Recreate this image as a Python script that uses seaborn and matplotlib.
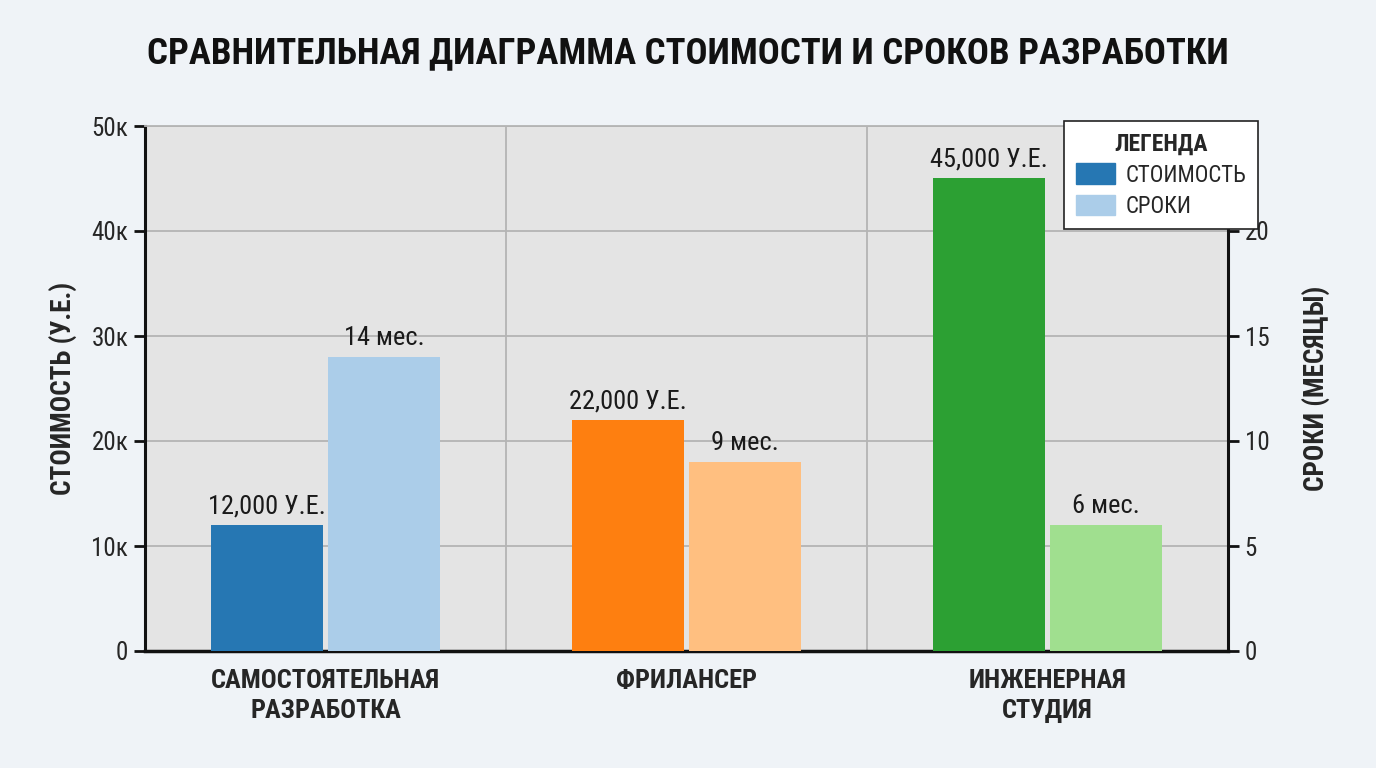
import numpy as np
import pandas as pd
import matplotlib
matplotlib.use('Agg')
import matplotlib.pyplot as plt
import seaborn as sns
from matplotlib import font_manager
from matplotlib.patches import Patch
from matplotlib.ticker import FuncFormatter

# data
categories = ['САМОСТОЯТЕЛЬНАЯ\nРАЗРАБОТКА', 'ФРИЛАНСЕР', 'ИНЖЕНЕРНАЯ\nСТУДИЯ']
cost = [12000, 22000, 45000]
months = [14, 9, 6]
cost_colors = ['#2677b3', '#fe7f10', '#2ca033']
month_colors = ['#abcde9', '#ffbf80', '#a0df8f']
series = ['СТОИМОСТЬ', 'СРОКИ']

sns.set_theme(style='white')

names = {f.name for f in font_manager.fontManager.ttflist}
family = 'Roboto'
for cand in ['Liberation Sans Narrow', 'Roboto Condensed', 'Roboto', 'Liberation Sans']:
    if cand in names:
        family = cand
        break
plt.rcParams['font.family'] = [family, 'DejaVu Sans']

df = pd.DataFrame({
    'cat': categories * 2,
    'metric': [series[0]] * 3 + [series[1]] * 3,
    'value': cost + months,
})

bg = '#eff3f7'
fig = plt.figure(figsize=(13.76, 7.68), dpi=100, facecolor=bg)
ax1 = fig.add_axes([145 / 1376, 1 - 651 / 768, 1083 / 1376, 525 / 768])
ax1.set_facecolor('#e4e4e4')

sns.barplot(data=df[df.metric == series[0]], x='cat', y='value', hue='metric',
            hue_order=series, order=categories, dodge=True, width=0.65, gap=0.04,
            legend=False, ax=ax1, zorder=3)
ax2 = ax1.twinx()
sns.barplot(data=df[df.metric == series[1]], x='cat', y='value', hue='metric',
            hue_order=series, order=categories, dodge=True, width=0.65, gap=0.04,
            legend=False, ax=ax2, zorder=3)

for ax, cols in [(ax1, cost_colors), (ax2, month_colors)]:
    bars = sorted([p for c in ax.containers for p in c], key=lambda p: p.get_x())
    for p, c in zip(bars, cols):
        p.set_facecolor(c)
        p.set_edgecolor('none')

ax1.bar_label(ax1.containers[0], labels=[f'{v:,} У.Е.' for v in cost],
              padding=5, fontsize=19, color='#1a1a1a')
ax2.bar_label(ax2.containers[-1], labels=[f'{v} мес.' for v in months],
              padding=5, fontsize=19, color='#1a1a1a')

ax1.set_xlim(-0.5, 2.5)
ax1.set_ylim(0, 50000)
ax2.set_ylim(0, 25)
ax1.set_yticks(np.arange(0, 50001, 10000))
ax2.set_yticks(np.arange(0, 21, 5))
ax1.yaxis.set_major_formatter(FuncFormatter(lambda v, _: '0' if v == 0 else f'{v / 1000:.0f}к'))

ax1.grid(axis='y', color='#b4b4b4', lw=1.3, zorder=0)
ax1.grid(axis='x', visible=False)
ax2.grid(False)
for xv in [0.5, 1.5]:
    ax1.axvline(xv, color='#b4b4b4', lw=1.3, zorder=0)

ax1.set_xlabel('')
ax2.set_xlabel('')
ax1.tick_params(axis='x', length=0, pad=13, labelsize=19)
for lbl in ax1.get_xticklabels():
    lbl.set_fontweight('bold')
    lbl.set_linespacing(1.3)
ax1.tick_params(axis='y', left=True, length=8, width=2, labelsize=18, pad=4, color='#111')
ax2.tick_params(axis='y', right=True, length=8, width=2, labelsize=18, pad=4, color='#111')

ax1.set_ylabel('СТОИМОСТЬ (У.Е.)', fontsize=19.5, fontweight='bold')
ax1.yaxis.set_label_coords(-0.062, 0.5)
ax2.set_ylabel('СРОКИ (МЕСЯЦЫ)', fontsize=19.5, fontweight='bold', rotation=90)
ax2.yaxis.set_label_coords(1.069, 0.5)

for ax in (ax1, ax2):
    for s in ax.spines.values():
        s.set_visible(False)
ax1.spines['left'].set_visible(True)
ax1.spines['bottom'].set_visible(True)
ax1.spines['top'].set_visible(True)
ax1.spines['left'].set(color='#111', lw=2.2)
ax1.spines['bottom'].set(color='#111', lw=2.5)
ax1.spines['top'].set(color='#b4b4b4', lw=1.3)
ax2.spines['right'].set_visible(True)
ax2.spines['right'].set(color='#111', lw=2.2)

handles = [Patch(color=cost_colors[0], label=series[0]),
           Patch(color=month_colors[0], label=series[1])]
leg = ax2.legend(handles=handles, title='ЛЕГЕНДА', loc='upper right',
                 bbox_to_anchor=(1.028, 1.0095), borderaxespad=0, fontsize=16.5,
                 title_fontproperties={'weight': 'bold', 'size': 17},
                 frameon=True, fancybox=False, framealpha=1, edgecolor='#222',
                 handlelength=1.7, handleheight=1.0, handletextpad=0.5,
                 borderpad=0.5, labelspacing=0.35)
leg.get_frame().set_linewidth(1.2)
leg.set_zorder(10)

fig.text(688 / 1376, 1 - 53 / 768, 'СРАВНИТЕЛЬНАЯ ДИАГРАММА СТОИМОСТИ И СРОКОВ РАЗРАБОТКИ',
         ha='center', va='center', fontsize=26.5, fontweight='bold', color='#111')

fig.savefig('out.png', dpi=100, facecolor=bg)
